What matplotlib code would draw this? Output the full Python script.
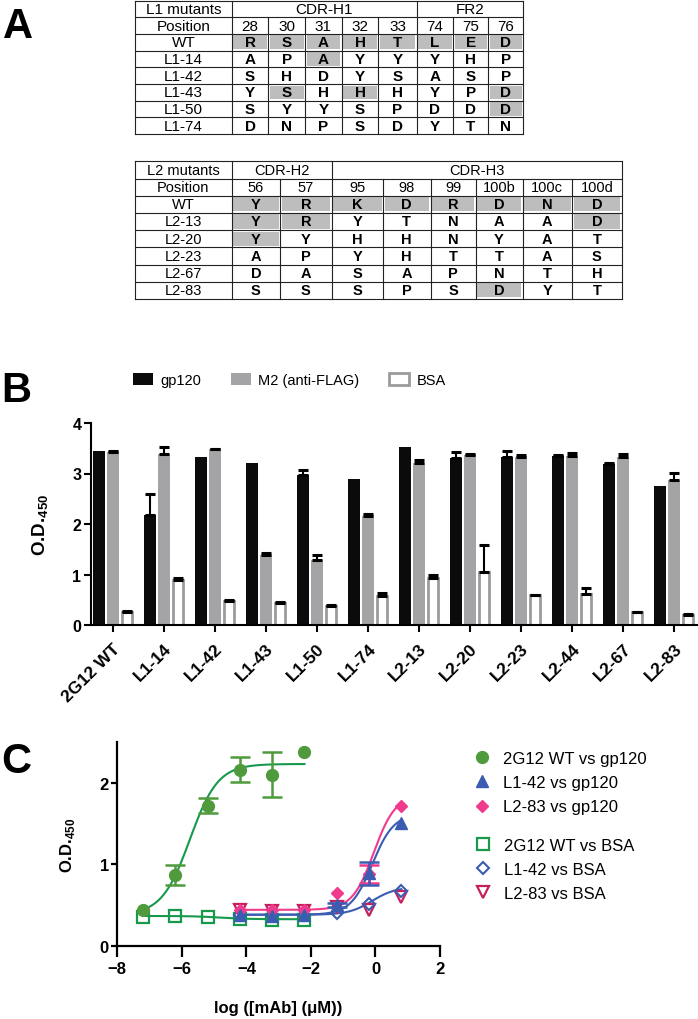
import numpy as np
import matplotlib
matplotlib.use("Agg")
import matplotlib.pyplot as plt
from matplotlib.patches import Rectangle
from matplotlib.lines import Line2D

plt.rcParams['font.family'] = ['Liberation Sans', 'DejaVu Sans']
plt.rcParams['mathtext.fontset'] = 'custom'
plt.rcParams['mathtext.rm'] = 'Liberation Sans'
plt.rcParams['mathtext.bf'] = 'Liberation Sans:bold'

# ---------------- data: panel A tables
l1_corner = 'L1 mutants'
l1_spans = [(1, 5, 'CDR-H1'), (6, 8, 'FR2')]
l1_pos = ['28', '30', '31', '32', '33', '74', '75', '76']
l1_names = ['WT', 'L1-14', 'L1-42', 'L1-43', 'L1-50', 'L1-74']
l1_seq = ['RSAHTLED', 'APAYYYHP', 'SHDYSASP', 'YSHHHYPD', 'SYYSPDDD', 'DNPSDYTN']
l1_shade = [[0, 1, 2, 3, 4, 5, 6, 7], [2], [], [1, 3, 7], [7], []]

l2_corner = 'L2 mutants'
l2_spans = [(1, 2, 'CDR-H2'), (3, 8, 'CDR-H3')]
l2_pos = ['56', '57', '95', '98', '99', '100b', '100c', '100d']
l2_names = ['WT', 'L2-13', 'L2-20', 'L2-23', 'L2-67', 'L2-83']
l2_seq = ['YRKDRDND', 'YRYTNAAD', 'YYHHNYAT', 'APYHTTAS', 'DASAPNTH', 'SSSPSDYT']
l2_shade = [[0, 1, 2, 3, 4, 5, 6, 7], [0, 1, 7], [0], [], [], [5]]

# ---------------- data: panel B bars
groups = ['2G12 WT', 'L1-14', 'L1-42', 'L1-43', 'L1-50', 'L1-74',
          'L2-13', 'L2-20', 'L2-23', 'L2-44', 'L2-67', 'L2-83']
gp120 = [3.44, 2.18, 3.33, 3.20, 2.98, 2.89, 3.52, 3.30, 3.33, 3.35, 3.18, 2.76]
gp120_err = [0, 0.41, 0, 0, 0.09, 0, 0, 0.13, 0.12, 0.02, 0.03, 0]
m2 = [3.43, 3.39, 3.48, 1.39, 1.28, 2.16, 3.20, 3.36, 3.33, 3.35, 3.33, 2.88]
m2_err = [0.02, 0.13, 0.01, 0.04, 0.11, 0.03, 0.07, 0.02, 0.04, 0.05, 0.05, 0.13]
bsa = [0.25, 0.90, 0.47, 0.43, 0.38, 0.58, 0.94, 1.05, 0.59, 0.61, 0.25, 0.20]
bsa_err = [0.02, 0.04, 0.02, 0.02, 0.01, 0.05, 0.05, 0.54, 0.01, 0.12, 0.01, 0.02]

# ---------------- data: panel C binding curves
conc_wt = [-7.2, -6.2, -5.2, -4.2, -3.2, -2.2]
conc_mut = [-4.2, -3.2, -2.2, -1.2, -0.2, 0.8]
wt_gp = [0.44, 0.87, 1.72, 2.16, 2.10, 2.38]
wt_gp_err = [0, 0.125, 0.095, 0.15, 0.275, 0]
l142_gp = [0.38, 0.37, 0.38, 0.50, 0.89, 1.50]
l142_gp_err = [0, 0, 0, 0.03, 0.14, 0]
l283_gp = [0.44, 0.44, 0.44, 0.65, 0.88, 1.72]
l283_gp_err = [0, 0, 0, 0, 0.11, 0]
wt_bsa = [0.35, 0.37, 0.35, 0.33, 0.32, 0.32]
l142_bsa = [0.38, 0.38, 0.38, 0.40, 0.51, 0.67]
l283_bsa = [0.44, 0.43, 0.43, 0.48, 0.44, 0.60]
# 4PL fit parameters (bottom, top, logEC50, hill)
fit_wt_gp = (0.38, 2.23, -5.75, 1.0)
fit_l142_gp = (0.38, 1.62, -0.1, 1.3)
fit_l283_gp = (0.44, 1.85, -0.05, 1.3)
fit_wt_bsa = (0.365, 0.325, -4.8, 1.0)
fit_l142_bsa = (0.38, 0.72, -0.1, 1.2)


def four_pl(x, p):
    b, t, c, h = p
    return b + (t - b) / (1 + 10 ** ((c - x) * h))


def err_up(ax, xs, ys, es, **kw):
    # only draw bars where there is an error, upper side only
    xs, ys, es = np.asarray(xs, float), np.asarray(ys, float), np.asarray(es, float)
    m = es > 0
    ax.errorbar(xs[m], ys[m], yerr=[np.zeros(m.sum()), es[m]], **kw)


def err_both(ax, xs, ys, es, **kw):
    xs, ys, es = np.asarray(xs, float), np.asarray(ys, float), np.asarray(es, float)
    m = es > 0
    ax.errorbar(xs[m], ys[m], yerr=es[m], **kw)


fig = plt.figure(figsize=(6.98, 10.2), dpi=100)
W, H = 698.0, 1020.0

# ---------------- panel A
tab = fig.add_axes([0, 0, 1, 1])
tab.set_xlim(0, W)
tab.set_ylim(H, 0)
tab.axis('off')


def draw_table(xs, top, rh, corner, spans, pos, names, seq, shade, fs):
    nrow = 2 + len(names)
    bottom = top + nrow * rh
    for i in range(len(names)):
        for j in shade[i]:
            tab.add_patch(Rectangle((xs[j + 1] + 1.5, top + (i + 2) * rh + 1.5),
                                    xs[j + 2] - xs[j + 1] - 3, rh - 3,
                                    fc='#bdbdbd', ec='none'))
    for r in range(nrow + 1):
        tab.plot([xs[0], xs[-1]], [top + r * rh] * 2, color='#222222', lw=0.8)
    starts = [s[0] for s in spans]
    for k, x in enumerate(xs):
        y0 = top if (k in (0, 1, len(xs) - 1) or k in starts) else top + rh
        tab.plot([x, x], [y0, bottom], color='#222222', lw=0.8)
    tab.text((xs[0] + xs[1]) / 2, top + rh / 2, corner, ha='center', va='center', fontsize=fs)
    for s0, s1, lab in spans:
        tab.text((xs[s0] + xs[s1 + 1]) / 2, top + rh / 2, lab, ha='center', va='center', fontsize=fs)
    tab.text((xs[0] + xs[1]) / 2, top + 1.5 * rh, 'Position', ha='center', va='center', fontsize=fs)
    for j, p in enumerate(pos):
        tab.text((xs[j + 1] + xs[j + 2]) / 2, top + 1.5 * rh, p, ha='center', va='center', fontsize=fs)
    for i, nm in enumerate(names):
        yc = top + (i + 2.5) * rh
        tab.text((xs[0] + xs[1]) / 2, yc, nm, ha='center', va='center', fontsize=fs)
        for j, aa in enumerate(seq[i]):
            tab.text((xs[j + 1] + xs[j + 2]) / 2, yc, aa, ha='center', va='center',
                     fontsize=fs, fontweight='bold')


draw_table([135, 231.7, 268.3, 305, 341.7, 378.3, 416.7, 453.3, 488.3, 523.3],
           1.5, 16.7, l1_corner, l1_spans, l1_pos, l1_names, l1_seq, l1_shade, 11)
draw_table([135, 231.7, 280, 331.5, 383, 430.5, 475.5, 522.5, 572, 621.7],
           162.3, 17.2, l2_corner, l2_spans, l2_pos, l2_names, l2_seq, l2_shade, 10.5)

fig.text(3 / W, 1 - 38 / H, 'A', fontsize=30, fontweight='bold', va='baseline')
fig.text(1 / W, 1 - 402 / H, 'B', fontsize=30, fontweight='bold', va='baseline')
fig.text(1 / W, 1 - 773 / H, 'C', fontsize=30, fontweight='bold', va='baseline')

# ---------------- panel B
axb = fig.add_axes([91 / W, 1 - 626 / H, 606 / W, 202 / H])
x = np.arange(len(groups))
bw = 0.23
off = 0.275
ekw = dict(fmt='none', ecolor='black', elinewidth=1.5, capsize=3.5, capthick=2.2, zorder=3)
axb.bar(x - off, gp120, bw, color='#0b0b0b', label='gp120', zorder=2)
err_up(axb, x - off, gp120, gp120_err, **ekw)
axb.bar(x, m2, bw, color='#a4a4a6', label='M2 (anti-FLAG)', zorder=2)
err_up(axb, x, m2, m2_err, **ekw)
axb.bar(x + off, bsa, bw - 0.04, color='white', edgecolor='#9c9c9c', lw=2, label='BSA', zorder=2)
err_up(axb, x + off, bsa, bsa_err, **ekw)
axb.set_xlim(-0.43, 11.45)
axb.set_ylim(0, 4)
axb.set_yticks([0, 1, 2, 3, 4])
axb.set_xticks(x)
axb.set_xticklabels(groups, rotation=45, ha='right', rotation_mode='anchor',
                    fontsize=12.5, fontweight='bold')
for t in axb.get_yticklabels():
    t.set_fontsize(11.5)
    t.set_fontweight('bold')
for s in ['top', 'right']:
    axb.spines[s].set_visible(False)
axb.spines['left'].set_linewidth(1.5)
axb.spines['bottom'].set_linewidth(1.5)
axb.tick_params(axis='both', width=1.5, length=5)
axb.tick_params(axis='x', pad=6)
axb.tick_params(axis='y', pad=2)
axb.set_ylabel(r'O.D.$_{\mathbf{450}}$', fontsize=13.5, fontweight='bold')
axb.yaxis.set_label_coords(-0.066, 0.5)
axb.legend(loc='center left', bbox_to_anchor=(0.069, 1.213), ncol=3, frameon=False,
           prop={'size': 10.5}, handlelength=1.4, handleheight=0.85,
           handletextpad=0.5, columnspacing=2.0, borderpad=0, borderaxespad=0)

# ---------------- panel C
green_pt = '#4f9a3c'
green_ln = '#17994c'
blue = '#3a5db2'
pink = '#f03a8e'
crimson = '#c5205d'

axc = fig.add_axes([117.3 / W, 1 - 946.7 / H, 322.7 / W, 203.7 / H])
xf = np.linspace(conc_wt[0], conc_wt[-1], 200)
axc.plot(xf, four_pl(xf, fit_wt_gp), color=green_ln, lw=1.5, zorder=2)
axc.plot(xf, four_pl(xf, fit_wt_bsa), color=green_ln, lw=1.5, zorder=2)
xm = np.linspace(conc_mut[0], conc_mut[-1], 200)
axc.plot(xm, four_pl(xm, fit_l283_gp), color=pink, lw=1.5, zorder=2)
axc.plot(xm, four_pl(xm, fit_l142_gp), color=blue, lw=1.5, zorder=2)
axc.plot(xm, four_pl(xm, fit_l142_bsa), color=blue, lw=1.5, zorder=2)

axc.plot(conc_wt, wt_bsa, ls='none', marker='s', ms=8, mfc='none', mec=green_ln, mew=1.6,
         clip_on=False, zorder=4)
axc.plot(conc_mut, l283_bsa, ls='none', marker='v', ms=9, mfc='none', mec=crimson, mew=1.6,
         clip_on=False, zorder=4)
axc.plot(conc_mut, l142_bsa, ls='none', marker='D', ms=6.5, mfc='none', mec=blue, mew=1.5,
         clip_on=False, zorder=4)
cekw = dict(fmt='none', elinewidth=1.8, capsize=7, capthick=1.8, zorder=4)
err_both(axc, conc_wt, wt_gp, wt_gp_err, ecolor=green_pt, **cekw)
err_both(axc, conc_mut, l283_gp, l283_gp_err, ecolor=pink, **cekw)
err_both(axc, conc_mut, l142_gp, l142_gp_err, ecolor=blue, **cekw)
axc.plot(conc_wt, wt_gp, ls='none', marker='o', ms=8.5, color=green_pt, clip_on=False, zorder=5)
axc.plot(conc_mut, l283_gp, ls='none', marker='D', ms=6.5, color=pink, clip_on=False, zorder=5)
axc.plot(conc_mut, l142_gp, ls='none', marker='^', ms=8, color=blue, clip_on=False, zorder=5)

axc.set_xlim(-8, 2)
axc.set_ylim(0, 2.5)
axc.set_xticks([-8, -6, -4, -2, 0, 2])
axc.set_yticks([0, 1, 2])
for s in ['top', 'right']:
    axc.spines[s].set_visible(False)
axc.spines['left'].set_linewidth(1.6)
axc.spines['bottom'].set_linewidth(1.6)
axc.tick_params(axis='x', width=1.6, length=8, labelsize=12, pad=3)
axc.tick_params(axis='y', width=1.6, length=4, labelsize=12, pad=2)
for t in axc.get_xticklabels() + axc.get_yticklabels():
    t.set_fontweight('bold')
axc.set_ylabel(r'O.D.$_{\mathbf{450}}$', fontsize=12, fontweight='bold')
axc.yaxis.set_label_coords(-0.125, 0.5)
axc.set_xlabel('log ([mAb] (\u03bcM))', fontsize=12, fontweight='bold')
axc.xaxis.set_label_coords(0.5, -0.268)

h1 = [Line2D([], [], ls='none', marker='o', ms=8.5, color=green_pt),
      Line2D([], [], ls='none', marker='^', ms=8, color=blue),
      Line2D([], [], ls='none', marker='D', ms=6.5, color=pink)]
h2 = [Line2D([], [], ls='none', marker='s', ms=8, mfc='none', mec=green_ln, mew=1.6),
      Line2D([], [], ls='none', marker='D', ms=6.5, mfc='none', mec=blue, mew=1.5),
      Line2D([], [], ls='none', marker='v', ms=9, mfc='none', mec=crimson, mew=1.6)]
lkw = dict(frameon=False, fontsize=12, handlelength=1.0, handletextpad=0.75,
           labelspacing=0.55, borderpad=0, borderaxespad=0, loc='upper left')
fig.legend(h1, ['2G12 WT vs gp120', 'L1-42 vs gp120', 'L2-83 vs gp120'],
           bbox_to_anchor=(474 / W, 1 - 752 / H), **lkw)
fig.legend(h2, ['2G12 WT vs BSA', 'L1-42 vs BSA', 'L2-83 vs BSA'],
           bbox_to_anchor=(475 / W, 1 - 839 / H), **lkw)

fig.savefig('out.png', dpi=100)
